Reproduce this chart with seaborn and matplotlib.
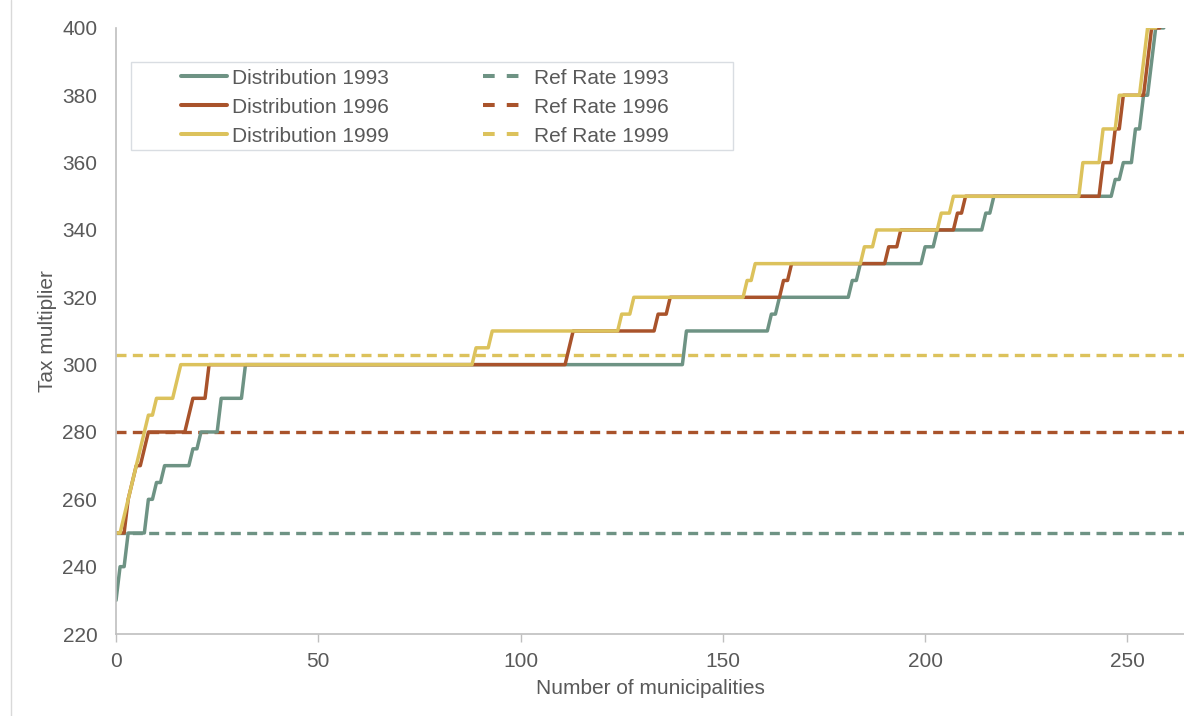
import numpy as np
import pandas as pd
import matplotlib
matplotlib.use("Agg")
import matplotlib.pyplot as plt
from matplotlib.lines import Line2D
from matplotlib.patches import Rectangle
import seaborn as sns

# Sorted tax multipliers per year, stored as run lengths (value, how many municipalities)
values_1993 = [230, 240, 250, 260, 265, 270, 275, 280, 290, 300, 310, 315, 320,
               325, 330, 335, 340, 345, 350, 355, 360, 370, 380, 390, 400]
counts_1993 = [1, 2, 5, 2, 2, 7, 2, 5, 6, 109, 21, 2, 18,
               2, 16, 3, 12, 2, 30, 2, 3, 2, 2, 1, 3]

values_1996 = [250, 260, 265, 270, 275, 280, 285, 290, 300, 305, 310, 315, 320,
               325, 330, 335, 340, 345, 350, 360, 370, 380, 390, 400]
counts_1996 = [3, 1, 1, 2, 1, 10, 1, 4, 89, 1, 21, 3, 28,
               2, 24, 3, 14, 2, 34, 3, 2, 6, 1, 3]

values_1999 = [250, 255, 260, 265, 270, 275, 280, 285, 290, 295, 300, 305, 310,
               315, 320, 325, 330, 335, 340, 345, 350, 360, 370, 380, 390, 400]
counts_1999 = [2, 1, 1, 1, 1, 1, 1, 2, 5, 1, 73, 4, 32,
               3, 28, 2, 27, 3, 16, 3, 32, 5, 4, 6, 1, 3]

years = ["1993", "1996", "1999"]
ref_rates = [250, 280, 303]
colors = ["#6e9384", "#a9532b", "#dcc25c"]

runs = {"1993": (values_1993, counts_1993),
        "1996": (values_1996, counts_1996),
        "1999": (values_1999, counts_1999)}

frames = []
for yr in years:
    vals, cnts = runs[yr]
    mult = np.repeat(vals, cnts)
    frames.append(pd.DataFrame({"n": np.arange(len(mult)), "multiplier": mult,
                                "year": "Distribution " + yr}))
df = pd.concat(frames, ignore_index=True)

sns.set_theme(style="white")
plt.rcParams["font.family"] = ["Liberation Sans", "DejaVu Sans"]
text_col = "#595959"

fig, ax = plt.subplots(figsize=(11.84, 7.16), dpi=100)
fig.subplots_adjust(left=0.098, right=1.0, bottom=0.1145, top=0.961)

palette = {"Distribution " + y: c for y, c in zip(years, colors)}
sns.lineplot(data=df, x="n", y="multiplier", hue="year", palette=palette,
             linewidth=2.5, ax=ax, legend=False, estimator=None, sort=False)

for r, c in zip(ref_rates, colors):
    ax.axhline(r, color=c, linewidth=2.4, dashes=(3.0, 1.9), zorder=1)

ax.set_xlim(0, 264)
ax.set_ylim(220, 400)
ax.set_xticks([0, 50, 100, 150, 200, 250])
ax.set_yticks(np.arange(220, 401, 20))
ax.set_xlabel("Number of municipalities", fontsize=15, color=text_col, labelpad=5.5)
ax.set_ylabel("Tax multiplier", fontsize=15, color=text_col)
ax.tick_params(axis="x", colors=text_col, labelsize=15, length=6, width=1,
               direction="out", color="#bfbfbf", bottom=True, pad=7)
ax.tick_params(axis="y", colors=text_col, labelsize=15, length=0, pad=13.5)

for s in ["top", "right"]:
    ax.spines[s].set_visible(False)
for s in ["left", "bottom"]:
    ax.spines[s].set_color("#bfbfbf")
    ax.spines[s].set_linewidth(1.2)

# legend frame drawn separately so the entries can sit centred inside it
ax.add_patch(Rectangle((0.014, 0.7987), 0.5637, 0.1457, transform=ax.transAxes,
                       facecolor="white", edgecolor="#d9dde2", linewidth=1, zorder=4))

handles = [Line2D([], [], color=c, linewidth=2.9) for c in colors]
handles += [Line2D([], [], color=c, linewidth=2.9, dashes=(2.9, 3.0)) for c in colors]
labels = ["Distribution " + y for y in years] + ["Ref Rate " + y for y in years]
leg = ax.legend(handles, labels, ncol=2, loc="upper left",
                bbox_to_anchor=(0.0609, 0.933), fontsize=15, frameon=False,
                handlelength=2.2, handletextpad=0.25, labelspacing=0.48,
                columnspacing=4.5, borderpad=0, borderaxespad=0)
leg.set_zorder(5)
for t in leg.get_texts():
    t.set_color(text_col)

fig.add_artist(Line2D([0.0093, 0.0093], [0, 1], transform=fig.transFigure,
                      color="#d9d9d9", linewidth=1))

fig.savefig("out.png", dpi=100)
